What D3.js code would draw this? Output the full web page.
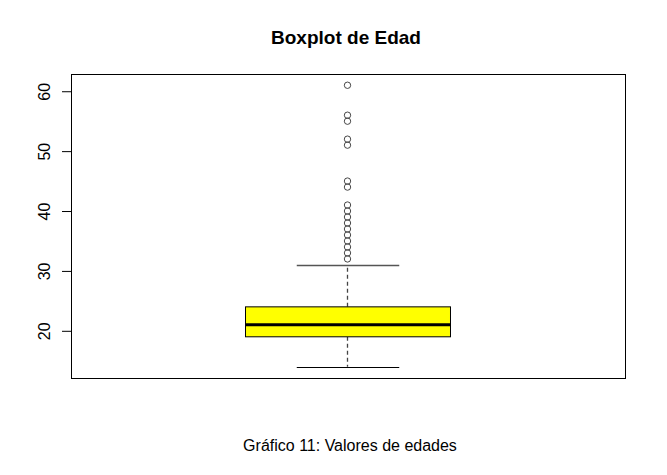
<!DOCTYPE html>
<html><head><meta charset="utf-8">
<script src="https://cdn.jsdelivr.net/npm/d3@7"></script>
<style>body{margin:0;background:#fff}svg{font-family:"Liberation Sans",Arial,sans-serif}</style>
</head><body>
<svg id="c" width="667" height="475"></svg>
<script>
const title = "Boxplot de Edad";
const caption = "Gráfico 11: Valores de edades";
const stats = {lowerWhisker:14, q1:19, median:21, q3:24, upperWhisker:31};
const outliers = [32,33,34,35,36,37,38,39,40,41,44,45,51,52,55,56,61];
const yTicks = [20,30,40,50,60];

(function(){
const svg = d3.select("#c");
const W=667,H=475;
svg.append("rect").attr("width",W).attr("height",H).attr("fill","#fff");
const pL=71,pR=625,pT=74,pB=378;
const dmin=d3.min([stats.lowerWhisker,...outliers]), dmax=d3.max([stats.upperWhisker,...outliers]);
const pad=(dmax-dmin)*0.04;
const y=d3.scaleLinear().domain([dmin-pad,dmax+pad]).range([pB,pT]);
const x=d3.scaleLinear().domain([0.5,1.5]).range([pL,pR]);
const cx=Math.round(x(1))-0.5;

// axis
const ax=svg.append("g").attr("transform",`translate(${pL},0)`)
  .call(d3.axisLeft(y).tickValues(yTicks).tickSize(9).tickPadding(0).tickFormat(d3.format("d")));
ax.select(".domain").remove();
ax.selectAll(".tick line").attr("stroke","#000");
ax.selectAll(".tick text").remove();
ax.selectAll(".tick").append("text").attr("fill","#000").style("font-size","16px")
  .attr("transform","translate(-27,0) rotate(-90)").attr("dy","0.35em")
  .attr("text-anchor","middle").text(d=>d);

// frame
svg.append("rect").attr("x",pL+0.5).attr("y",pT+0.5).attr("width",pR-pL).attr("height",pB-pT)
  .attr("fill","none").attr("stroke","#000");

// whiskers
const bx0=x(1-0.185), bx1=x(1+0.185);
const wx0=x(1-0.0925), wx1=x(1+0.0925);
svg.append("line").attr("x1",cx).attr("x2",cx).attr("y1",y(stats.q3)).attr("y2",y(stats.upperWhisker))
  .attr("stroke","#444").attr("stroke-width",1.3).attr("stroke-dasharray","4,3");
svg.append("line").attr("x1",cx).attr("x2",cx).attr("y1",y(stats.q1)).attr("y2",y(stats.lowerWhisker))
  .attr("stroke","#444").attr("stroke-width",1.3).attr("stroke-dasharray","4,3");
svg.append("line").attr("x1",wx0).attr("x2",wx1).attr("y1",Math.round(y(stats.upperWhisker))+0.5).attr("y2",Math.round(y(stats.upperWhisker))+0.5).attr("stroke","#555").attr("stroke-width",1.3);
svg.append("line").attr("x1",wx0).attr("x2",wx1).attr("y1",Math.round(y(stats.lowerWhisker))+0.5).attr("y2",Math.round(y(stats.lowerWhisker))+0.5).attr("stroke","#000");
// box
svg.append("rect").attr("x",bx0).attr("y",y(stats.q3)).attr("width",bx1-bx0).attr("height",y(stats.q1)-y(stats.q3))
  .attr("fill","#ffff00").attr("stroke","#000").attr("stroke-width",1);
svg.append("line").attr("x1",bx0).attr("x2",bx1).attr("y1",y(stats.median)).attr("y2",y(stats.median))
  .attr("stroke","#000").attr("stroke-width",3);
// outliers
svg.selectAll("circle.o").data(outliers).enter().append("circle")
  .attr("cx",cx).attr("cy",d=>y(d)).attr("r",3.2).attr("fill","none").attr("stroke","#333").attr("stroke-width",0.9);

svg.append("text").attr("x",346).attr("y",44).attr("text-anchor","middle")
  .style("font-weight","bold").style("font-size","19px").text(title);
svg.append("text").attr("x",350).attr("y",451).attr("text-anchor","middle")
  .style("font-size","16px").text(caption);
})();
</script>
</body></html>
